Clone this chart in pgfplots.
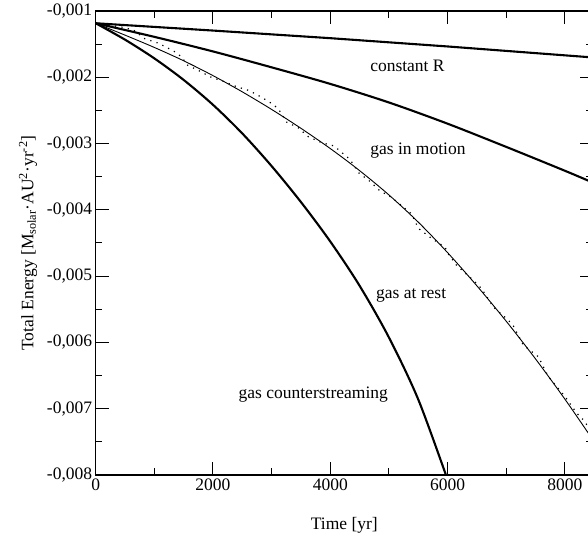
\documentclass[border=0pt]{standalone}
\usepackage{fontspec}
\setmainfont{Liberation Serif}
\usepackage{pgfplots}
\pgfplotsset{compat=1.18}
\newcommand{\fs}{\fontsize{17.5bp}{21bp}\selectfont}
\begin{document}
\begin{tikzpicture}
\useasboundingbox (0,0) rectangle (588bp,-541bp);
\begin{axis}[
  at={(95.7bp,-11bp)}, anchor=north west,
  scale only axis, width=497.3bp, height=464bp,
  xmin=0, xmax=8480, ymin=-0.008, ymax=-0.001,
  xtick={0,2000,4000,6000,8000},
  xticklabels={0,2000,4000,6000,8000},
  minor xtick={1000,3000,5000,7000},
  ytick={-0.008,-0.007,-0.006,-0.005,-0.004,-0.003,-0.002,-0.001},
  yticklabels={{-0,008},{-0,007},{-0,006},{-0,005},{-0,004},{-0,003},{-0,002},{-0,001}},
  minor ytick={-0.0075,-0.0065,-0.0055,-0.0045,-0.0035,-0.0025,-0.0015},
  scaled y ticks=false, scaled x ticks=false,
  tick align=inside,
  major tick length=13bp, minor tick length=6.7bp,
  every tick/.style={black, line width=1bp},
  axis line style={line width=1.3bp},
  tick label style={font=\fs},
  label style={font=\fs},
  xlabel={Time [yr]},
  xlabel style={at={(axis description cs:0.5,0)}, anchor=north, yshift=-39bp},
  ylabel={Total Energy [M\textsubscript{solar}·AU\textsuperscript{2}·yr\textsuperscript{-2}]},
  ylabel style={at={(axis description cs:-0.1106,0.5)}, anchor=south},
]
% constant R
\addplot[black, line width=2.1bp] table {
0 -0.001185
2000 -0.001295
4000 -0.00141
6000 -0.001535
8480 -0.001701
};
% gas in motion
\addplot[black, line width=2.1bp, smooth] table {
0 -0.001185
1000 -0.00139
2000 -0.00161
3000 -0.00185
4000 -0.0021
5000 -0.00238
6000 -0.0027
7000 -0.00305
8000 -0.00341
8480 -0.00359
};
% gas at rest
\addplot[black, line width=0.9bp, smooth] table {
0 -0.001185
500 -0.001364
1000 -0.001550
1500 -0.001751
2000 -0.001975
2500 -0.002220
3000 -0.002485
3500 -0.002770
4000 -0.003075
4500 -0.003408
5000 -0.003775
5500 -0.004185
6000 -0.004645
6500 -0.005146
7000 -0.005680
7500 -0.006249
8000 -0.006855
8480 -0.007472
};
% gas at rest (dotted)
\addplot[black, line width=1.2bp, dash pattern=on 1.2bp off 5.3bp] table {
0 -0.001185
159 -0.001211
414 -0.001236
642 -0.001285
841 -0.00142
1068 -0.001485
1267 -0.001576
1392 -0.001636
1494 -0.001726
1551 -0.001811
1751 -0.001896
1961 -0.001996
2176 -0.002061
2387 -0.002136
2619 -0.002201
2818 -0.002296
3011 -0.002401
3114 -0.002476
3257 -0.002677
3454 -0.002761
3625 -0.002896
3853 -0.002986
4068 -0.003037
4165 -0.003113
4336 -0.003237
4478 -0.003437
4665 -0.003563
4847 -0.003713
5047 -0.003813
5217 -0.003938
5388 -0.004063
5501 -0.004278
5700 -0.004413
5956 -0.004563
6012 -0.004664
6155 -0.004839
6411 -0.005039
6581 -0.005189
6780 -0.005464
7036 -0.005665
7121 -0.00575
7291 -0.00604
7547 -0.006215
7718 -0.006515
8002 -0.006815
8201 -0.007066
8314 -0.007166
8480 -0.00738
};
% gas counterstreaming
\addplot[black, line width=2.1bp, smooth] table {
0 -0.001185
500 -0.0014325
1000 -0.001715
1500 -0.002040
2000 -0.002415
2500 -0.0028475
3000 -0.003340
3500 -0.0038825
4000 -0.0044775
4500 -0.005145
5000 -0.005925
5500 -0.006860
6000 -0.008070
};
\node[anchor=base, font=\fs] at (axis cs:5316,-0.00192) {constant R};
\node[anchor=base, font=\fs] at (axis cs:5495,-0.003161) {gas in motion};
\node[anchor=base, font=\fs] at (axis cs:5379,-0.005333) {gas at rest};
\node[anchor=base, font=\fs] at (axis cs:3710,-0.006842) {gas counterstreaming};
\end{axis}
\end{tikzpicture}
\end{document}
